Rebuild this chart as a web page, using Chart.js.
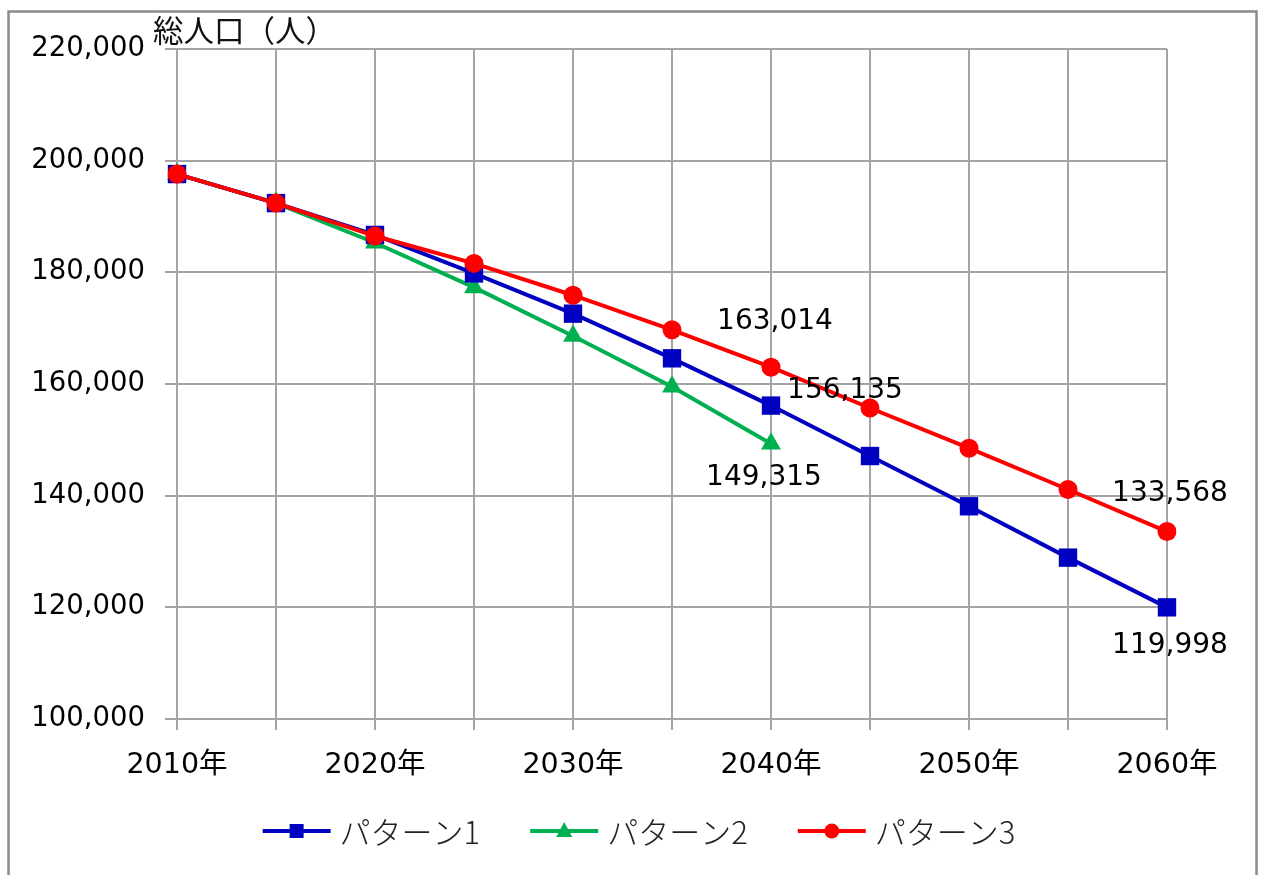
<!DOCTYPE html>
<html><head><meta charset="utf-8">
<script src="https://cdn.jsdelivr.net/npm/chart.js@4.4.0/dist/chart.umd.min.js"></script>
<style>html,body{margin:0;padding:0;background:#fff;overflow:hidden}#wrap{position:relative;width:1262px;height:875px}</style>
</head><body><div id="wrap"><canvas id="c" width="1262" height="875"></canvas></div>
<script>
// ---- data ----
const years = ['2010年','2015年','2020年','2025年','2030年','2035年','2040年','2045年','2050年','2055年','2060年'];
const shownYearLabels = ['2010年','','2020年','','2030年','','2040年','','2050年','','2060年'];
const pattern1 = [197600, 192400, 186700, 179800, 172600, 164600, 156135, 147100, 138100, 128900, 119998];
const pattern2 = [197600, 192400, 185300, 177300, 168600, 159500, 149315];
const pattern3 = [197600, 192400, 186500, 181600, 175900, 169700, 163014, 155700, 148500, 141100, 133568];
const seriesNames = ['パターン1','パターン2','パターン3'];
const yMin = 100000, yMax = 220000, yStep = 20000;
const axisTitle = '総人口（人）';

const colors = ['#0000c0', '#00b050', '#ff0000'];
const LATIN = '"DejaVu Sans", "Noto Sans CJK JP", sans-serif';
const CJK = '"Noto Sans CJK JP", sans-serif';

// data labels: which points get a value label, with pixel offsets
const labelSpecs = [
  {ds: 2, i: 6, dx: 4, dy: -45},
  {ds: 0, i: 6, dx: 74, dy: -15},
  {ds: 1, i: 6, dx: -7, dy: 34},
  {ds: 2, i: 10, dx: 3, dy: -38},
  {ds: 0, i: 10, dx: 3, dy: 38}
];
const fmt = v => v.toLocaleString('en-US');

const framePlugin = {
  id: 'frame',
  beforeDraw(chart) {
    const ctx = chart.ctx;
    ctx.save();
    ctx.fillStyle = '#fff';
    ctx.fillRect(0, 0, chart.width, chart.height);
    ctx.strokeStyle = '#8a8a8a';
    ctx.lineWidth = 2.5;
    ctx.strokeRect(8.5, 11.5, 1248, 900);
    ctx.fillStyle = '#111';
    ctx.font = '30.5px ' + CJK;
    ctx.textAlign = 'left';
    ctx.textBaseline = 'middle';
    ctx.fillText(axisTitle, 153, 30);
    ctx.restore();
  }
};

const labelPlugin = {
  id: 'vlabels',
  afterDatasetsDraw(chart) {
    const ctx = chart.ctx;
    ctx.save();
    ctx.fillStyle = '#000';
    ctx.font = '28px ' + LATIN;
    ctx.textAlign = 'center';
    ctx.textBaseline = 'middle';
    labelSpecs.forEach(s => {
      const el = chart.getDatasetMeta(s.ds).data[s.i];
      const v = chart.data.datasets[s.ds].data[s.i];
      ctx.fillText(fmt(v), el.x + s.dx, el.y + s.dy);
    });
    ctx.restore();
  }
};

const legendPlugin = {
  id: 'customLegend',
  afterDraw(chart) {
    const ctx = chart.ctx;
    ctx.save();
    ctx.font = '300 31px ' + CJK;
    const lineLen = 68, gapText = 9, gapItem = 50;
    const widths = seriesNames.map(n => ctx.measureText(n).width);
    let total = 0;
    widths.forEach((w, k) => { total += lineLen + gapText + w + (k < widths.length - 1 ? gapItem : 0); });
    let x = 639 - total / 2;
    const y = 831;
    chart.data.datasets.forEach((ds, k) => {
      ctx.strokeStyle = ds.borderColor;
      ctx.lineWidth = 4;
      ctx.beginPath(); ctx.moveTo(x, y); ctx.lineTo(x + lineLen, y); ctx.stroke();
      ctx.fillStyle = ds.borderColor;
      ctx.beginPath();
      const cx = x + lineLen / 2;
      if (ds.pointStyle === 'rect') { ctx.rect(cx - 7, y - 7, 14, 14); }
      else if (ds.pointStyle === 'triangle') { ctx.moveTo(cx, y - 9); ctx.lineTo(cx + 8, y + 6); ctx.lineTo(cx - 8, y + 6); ctx.closePath(); }
      else { ctx.arc(cx, y, 7.5, 0, Math.PI * 2); }
      ctx.fill();
      ctx.fillStyle = '#222';
      ctx.textAlign = 'left';
      ctx.textBaseline = 'middle';
      ctx.fillText(seriesNames[k], x + lineLen + gapText, y + 1);
      x += lineLen + gapText + widths[k] + gapItem;
    });
    ctx.restore();
  }
};

const gridColor = '#a4a4a4';

new Chart(document.getElementById('c'), {
  type: 'line',
  data: {
    labels: years,
    datasets: [
      {label: seriesNames[0], data: pattern1, borderColor: colors[0], backgroundColor: colors[0], borderWidth: 4,
       pointStyle: 'rect', pointRadius: 13, pointBorderWidth: 0, order: 2},
      {label: seriesNames[1], data: pattern2, borderColor: colors[1], backgroundColor: colors[1], borderWidth: 4,
       pointStyle: 'triangle', pointRadius: 11.5, pointBorderWidth: 0, order: 3},
      {label: seriesNames[2], data: pattern3, borderColor: colors[2], backgroundColor: colors[2], borderWidth: 4,
       pointStyle: 'circle', pointRadius: 9.5, pointBorderWidth: 0, order: 1}
    ]
  },
  options: {
    responsive: false,
    animation: false,
    devicePixelRatio: 1,
    layout: {padding: {left: 0, right: 95, top: 49, bottom: 0}},
    plugins: {legend: {display: false}, tooltip: {enabled: false}, title: {display: false}},
    elements: {line: {tension: 0}},
    scales: {
      x: {
        offset: false,
        grid: {color: gridColor, lineWidth: 2, tickLength: 11, drawTicks: true},
        border: {color: gridColor, width: 2},
        ticks: {
          autoSkip: false, maxRotation: 0, minRotation: 0, padding: 18,
          color: '#000', font: {family: LATIN, size: 28.5},
          callback: (v, i) => shownYearLabels[i]
        },
        afterFit(s) { s.height = 156; }
      },
      y: {
        min: yMin, max: yMax,
        grid: {color: gridColor, lineWidth: 2, tickLength: 12, drawTicks: true},
        border: {color: gridColor, width: 2},
        ticks: {
          stepSize: yStep, padding: 20, color: '#000', font: {family: LATIN, size: 27.5},
          callback: v => fmt(v)
        },
        afterFit(s) { s.width = 177; }
      }
    }
  },
  plugins: [framePlugin, labelPlugin, legendPlugin]
});
</script>
</body></html>
